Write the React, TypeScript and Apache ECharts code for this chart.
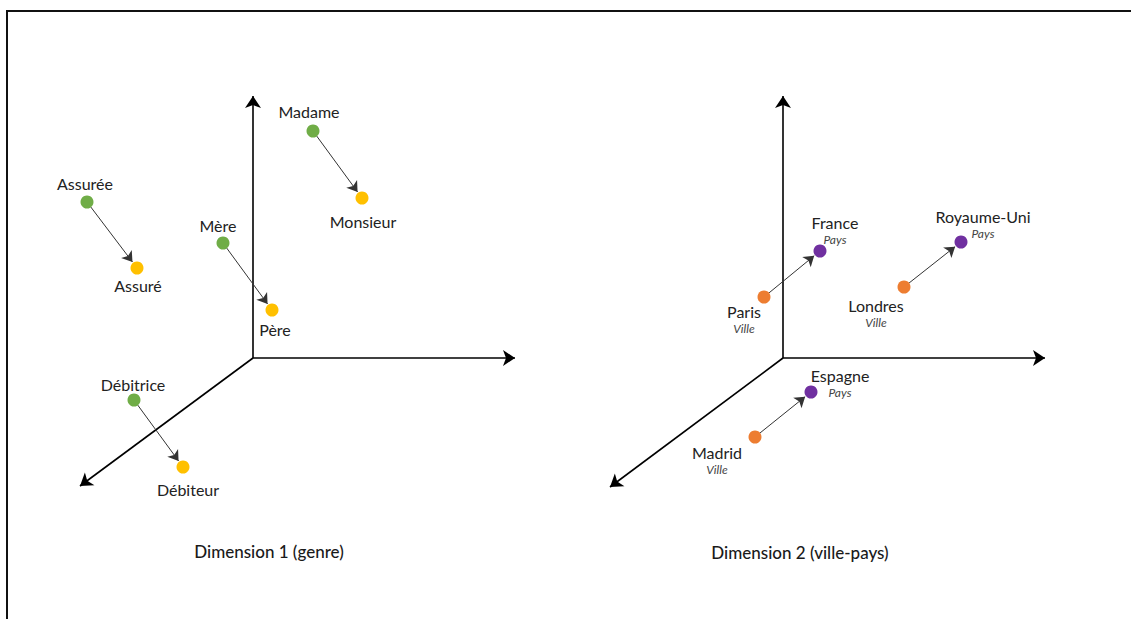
import React, { useEffect, useRef } from "react";
import * as echarts from "echarts";

// Panel 1 : genre (feminine -> masculine)
const femLabels = ["Madame", "Assurée", "Mère", "Débitrice"];
const femX = [313, 87, 223, 134];
const femY = [131, 202, 243, 400];
const mascLabels = ["Monsieur", "Assuré", "Père", "Débiteur"];
const mascX = [362, 137, 272, 183];
const mascY = [198, 268, 310, 467];

// Panel 2 : ville -> pays
const villeLabels = ["Paris", "Londres", "Madrid"];
const villeX = [764, 904, 755];
const villeY = [297, 287, 437];
const paysLabels = ["France", "Royaume-Uni", "Espagne"];
const paysX = [820, 961, 811];
const paysY = [251, 242, 392];
const villeTag = "Ville";
const paysTag = "Pays";

// axes origins and tips (drawing space)
const axisOrigins = [
  [253, 358],
  [783, 358],
];
const axisTips = [
  [[253, 96], [515, 358], [80, 486]],
  [[783, 96], [1045, 358], [610, 487]],
];

const titles = ["Dimension 1 (genre)", "Dimension 2 (ville-pays)"];

// label placement (offsets from point)
const femLabelOffset = [[-4, -20], [-2, -19], [-5, -18], [-1, -16]];
const mascLabelOffset = [[1, 23], [1, 17], [3, 19], [5, 22]];
const villeLabelOffset = [[-20, 22], [-28, 26], [-38, 23]];
const paysLabelOffset = [[15, -21], [22, -18], [29, -9]];

const GREEN = "#70AD47";
const YELLOW = "#FFC000";
const ORANGE = "#ED7D31";
const PURPLE = "#7030A0";
const FONT = "Lato, 'Noto Sans', sans-serif";
const R = 6.5;

function shorten(x1: number, y1: number, x2: number, y2: number, d: number) {
  const dx = x2 - x1;
  const dy = y2 - y1;
  const L = Math.sqrt(dx * dx + dy * dy);
  return [x2 - (dx / L) * d, y2 - (dy / L) * d];
}

export default function App() {
  const ref = useRef<HTMLDivElement>(null);
  useEffect(() => {
    if (!ref.current) return;
    const chart = echarts.init(ref.current, undefined, { renderer: "svg" });

    const axisLines: any[] = [];
    axisOrigins.forEach((o, i) => {
      axisTips[i].forEach((t) => axisLines.push({ coords: [o, t] }));
    });

    const vecLines: any[] = [];
    femX.forEach((_, i) => {
      vecLines.push({
        coords: [[femX[i], femY[i]], shorten(femX[i], femY[i], mascX[i], mascY[i], R + 1)],
      });
    });
    villeX.forEach((_, i) => {
      vecLines.push({
        coords: [[villeX[i], villeY[i]], shorten(villeX[i], villeY[i], paysX[i], paysY[i], R + 1)],
      });
    });

    const simpleLabel = (name: string, off: number[]) => ({
      show: true,
      position: "inside",
      offset: off,
      formatter: name,
      fontFamily: FONT,
      fontSize: 16,
      color: "#222",
    });
    const richLabel = (name: string, tag: string, off: number[]) => ({
      show: true,
      position: "inside",
      offset: off,
      formatter: `{a|${name}}\n{b|${tag}}`,
      rich: {
        a: { fontFamily: FONT, fontSize: 16, color: "#222", lineHeight: 18, align: "center" },
        b: { fontFamily: FONT, fontSize: 12, fontStyle: "italic", color: "#444", lineHeight: 16, align: "center" },
      },
    });

    const pts = (xs: number[], ys: number[], color: string, labelFn: (i: number) => any) =>
      xs.map((x, i) => ({ value: [x, ys[i]], itemStyle: { color, opacity: 1 }, label: labelFn(i) }));

    const data = [
      ...pts(femX, femY, GREEN, (i) => simpleLabel(femLabels[i], femLabelOffset[i])),
      ...pts(mascX, mascY, YELLOW, (i) => simpleLabel(mascLabels[i], mascLabelOffset[i])),
      ...pts(villeX, villeY, ORANGE, (i) => richLabel(villeLabels[i], villeTag, villeLabelOffset[i])),
      ...pts(paysX, paysY, PURPLE, (i) => richLabel(paysLabels[i], paysTag, paysLabelOffset[i])),
    ];

    const titleStyle = { fontFamily: FONT, fontSize: 17, fontWeight: 500, color: "#1a1a1a" };

    chart.setOption({
      animation: false,
      grid: { left: 0, top: 0, width: 1131, height: 619 },
      xAxis: { type: "value", min: 0, max: 1131, show: false },
      yAxis: { type: "value", min: 0, max: 619, inverse: true, show: false },
      title: [
        { text: titles[0], left: 264, top: 538, textAlign: "center", textStyle: titleStyle },
        { text: titles[1], left: 795, top: 539, textAlign: "center", textStyle: titleStyle },
      ],
      graphic: [
        { type: "line", shape: { x1: 6, y1: 11, x2: 1131, y2: 11 }, style: { stroke: "#111", lineWidth: 2 } },
        { type: "line", shape: { x1: 7, y1: 10, x2: 7, y2: 619 }, style: { stroke: "#111", lineWidth: 2 } },
      ],
      series: [
        {
          type: "lines",
          coordinateSystem: "cartesian2d",
          data: axisLines,
          symbol: ["none", "arrow"],
          symbolSize: [9, 12],
          lineStyle: { color: "#000", width: 1.6, opacity: 1 },
          z: 1,
        },
        {
          type: "lines",
          coordinateSystem: "cartesian2d",
          data: vecLines,
          symbol: ["none", "arrow"],
          symbolSize: [8, 10],
          lineStyle: { color: "#333", width: 1, opacity: 1 },
          z: 2,
        },
        {
          type: "scatter",
          symbol: "circle",
          symbolSize: 13,
          itemStyle: { opacity: 1 },
          data,
          z: 3,
        },
      ],
    });
    return () => chart.dispose();
  }, []);
  return (
    <div
      ref={ref}
      style={{ position: "fixed", left: 0, top: 0, width: 1131, height: 619, background: "#fff" }}
    />
  );
}
